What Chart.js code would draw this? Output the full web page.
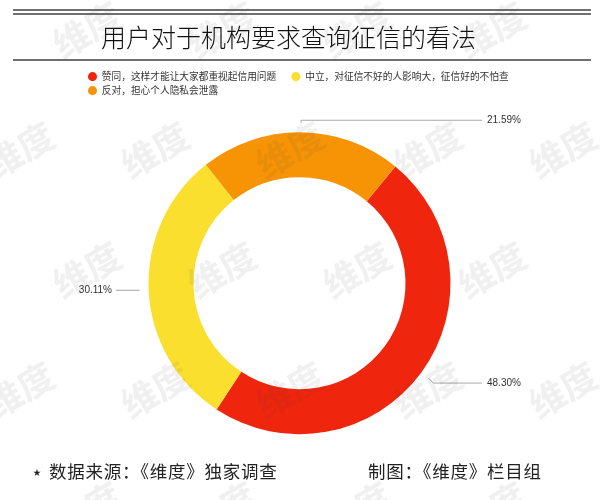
<!DOCTYPE html>
<html><head><meta charset="utf-8">
<style>html,body{margin:0;padding:0;background:#fff}canvas{display:block}</style>
<script src="https://cdn.jsdelivr.net/npm/chart.js@4"></script>
</head><body><canvas id="c" width="600" height="500"></canvas>
<script>
const categories = ['赞同，这样才能让大家都重视起信用问题','中立，对征信不好的人影响大，征信好的不怕查','反对，担心个人隐私会泄露'];
const shares = [48.30, 30.11, 21.59];
const sliceColors = ['#F0250E','#FADF2E','#F79406'];
const titleText = '用户对于机构要求查询征信的看法';
const sourceText = '数据来源：《维度》独家调查';
const creditText = '制图：《维度》栏目组';
const watermarkText = '维度';
const watermarkRows = [[30,[87,222,357,492]],[150,[20,155,290,428,563]],[270,[87,222,357,492]],[390,[20,155,290,428,563]],[510,[87,222,357,492]]];
const elbowDy = [5,0,-3];
const FONT = '"Noto Sans CJK SC","Noto Sans",sans-serif';

const decor = {
  id:'decor',
  afterLayout(chart){ chart.titleBlock.left -= 22; chart.legend.left += 23.7; },
  beforeDraw(chart){
    const c = chart.ctx;
    c.save(); c.fillStyle='#fff'; c.fillRect(0,0,600,500);
    c.strokeStyle='#707070'; c.lineWidth=2;
    [10,14,60].forEach(y=>{c.beginPath();c.moveTo(13,y);c.lineTo(591,y);c.stroke();});
    c.restore();
  },
  afterDraw(chart){
    const c = chart.ctx;
    const meta = chart.getDatasetMeta(0);
    c.save();
    c.font='10px "Liberation Sans",sans-serif';
    c.textBaseline='middle';
    meta.data.forEach((a,i)=>{
      const mid=(a.startAngle+a.endAngle)/2, r=a.outerRadius+9;
      const sx=a.x+Math.cos(mid)*r, sy=a.y+Math.sin(mid)*r, ey=sy+elbowDy[i];
      const right=Math.cos(mid)>=0, ex=right?482:116;
      c.strokeStyle='#a8a8a8'; c.lineWidth=1;
      c.beginPath();c.moveTo(sx,sy);
      if(elbowDy[i]) c.lineTo(sx+(i===0?5:0),ey);
      c.lineTo(ex,ey);c.stroke();
      c.fillStyle='#333';
      c.textAlign=right?'left':'right';
      c.fillText(shares[i].toFixed(2)+'%',right?ex+5:ex-4,ey);
    });
    c.fillStyle='#222'; c.textAlign='left';
    c.font='8px '+FONT; c.fillText('★',33,472);
    c.font='17.5px '+FONT;
    c.letterSpacing='0.75px';
    c.fillText(sourceText,49,471);
    c.fillText(creditText,368,471);
    c.letterSpacing='0px';
    c.fillStyle='rgba(70,70,70,0.08)';
    c.font='bold 36px '+FONT; c.textAlign='center';
    watermarkRows.forEach(([y,xs])=>xs.forEach(x=>{
      c.save();c.translate(x,y);c.rotate(-30*Math.PI/180);c.fillText(watermarkText,0,0);c.restore();
    }));
    c.restore();
  }
};

new Chart(document.getElementById('c'),{
  type:'doughnut',
  data:{labels:categories,datasets:[{data:shares,backgroundColor:sliceColors,borderWidth:0}]},
  options:{
    responsive:false,animation:false,devicePixelRatio:1,
    rotation:39.4,radius:151,cutout:'70.2%',
    layout:{padding:{left:60,right:61,top:17,bottom:39}},
    plugins:{
      tooltip:{enabled:false},
      title:{display:true,text:titleText,color:'#111',font:{family:FONT,size:25,weight:'300'},padding:{top:5,bottom:15.5}},
      legend:{position:'top',align:'start',
        labels:{usePointStyle:true,pointStyle:'circle',boxWidth:9,boxHeight:6.4,padding:4.3,color:'#333',font:{family:FONT,size:9.7},
          generateLabels(chart){
            const items = Chart.overrides.doughnut.plugins.legend.labels.generateLabels(chart);
            items[0].text += '     ';
            return items;
          }}}
    }
  },
  plugins:[decor]
});
</script></body></html>
